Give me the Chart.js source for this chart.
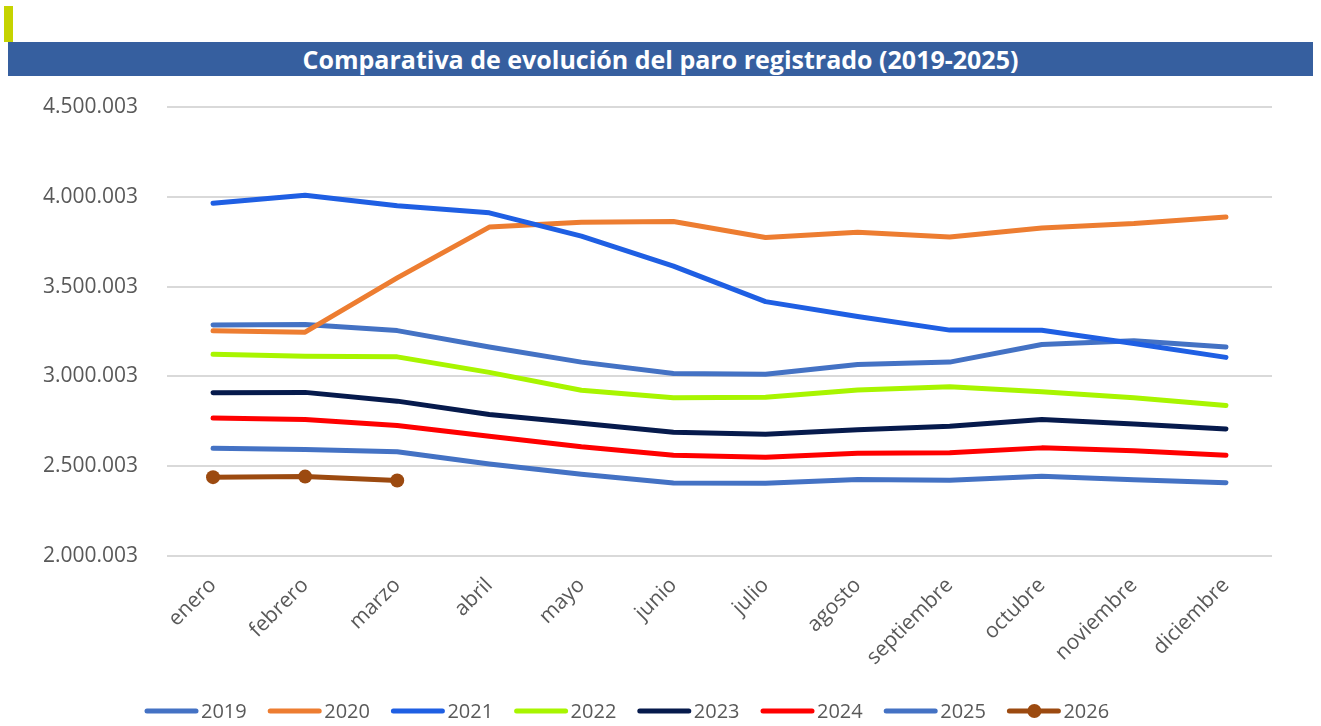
<!DOCTYPE html>
<html>
<head>
<meta charset="utf-8">
<script src="https://cdn.jsdelivr.net/npm/chart.js@4"></script>
<style>
  body { margin: 0; background: #fff; }
  #wrap { position: relative; width: 1321px; height: 726px; overflow: hidden; }
  #mark { position: absolute; left: 4px; top: 6px; width: 9px; height: 36px; background: #C5D300; }
  #band { position: absolute; left: 8px; top: 42px; width: 1305px; height: 34px; background: #365F9F; }
  #title { position: absolute; left: 0; top: 42px; width: 1321px; height: 34px; line-height: 34px; text-align: center;
           color: #fff; font: bold 25px "Open Sans", sans-serif; }
  canvas { position: absolute; left: 0; top: 0; }
</style>
</head>
<body>
<div id="wrap">
  <div id="mark"></div>
  <div id="band"></div>
  <div id="title">Comparativa de evolución del paro registrado (2019-2025)</div>
  <canvas id="myChart" width="1321" height="726"></canvas>
</div>
<script>
'use strict';

// data
let months = ['enero', 'febrero', 'marzo', 'abril', 'mayo', 'junio', 'julio', 'agosto', 'septiembre', 'octubre', 'noviembre', 'diciembre'];
let yTicks = [2000003, 2500003, 3000003, 3500003, 4000003, 4500003];

let paro2019 = [3285761, 3289040, 3255084, 3163566, 3079491, 3015686, 3011433, 3065804, 3079711, 3177659, 3198184, 3163605];
let paro2020 = [3253853, 3246047, 3548312, 3831203, 3857776, 3862883, 3773034, 3802814, 3776485, 3826043, 3851312, 3888137];
let paro2021 = [3964353, 4008789, 3949640, 3910628, 3781250, 3614339, 3416498, 3333915, 3257802, 3257068, 3182687, 3105905];
let paro2022 = [3123078, 3111684, 3108763, 3022503, 2922991, 2880582, 2883812, 2924240, 2941919, 2914892, 2881380, 2837653];
let paro2023 = [2908397, 2911015, 2862260, 2788370, 2739110, 2688842, 2677874, 2702700, 2722468, 2759404, 2734831, 2707456];
let paro2024 = [2767860, 2760408, 2727003, 2666500, 2607850, 2561067, 2550237, 2572121, 2575285, 2602054, 2586018, 2560718];
let paro2025 = [2599443, 2593449, 2580138, 2512718, 2454883, 2405963, 2404606, 2426511, 2421665, 2443766, 2425000, 2408000];
let paro2026 = [2439000, 2442000, 2420000];

let seriesNames = ['2019', '2020', '2021', '2022', '2023', '2024', '2025', '2026'];
let seriesData = [paro2019, paro2020, paro2021, paro2022, paro2023, paro2024, paro2025, paro2026];
let seriesColors = ['#4472C4', '#ED7D31', '#1F5FE3', '#A8F500', '#061A4C', '#FF0000', '#4472C4', '#9C4A10'];

function formatNumber(v) {
  return String(v).replace(/\B(?=(\d{3})+(?!\d))/g, '.');
}

let datasets = [];
for (let i = 0; i < seriesNames.length; i++) {
  let withPoints = seriesNames[i] === '2026';
  datasets.push({
    label: seriesNames[i],
    data: seriesData[i],
    borderColor: seriesColors[i],
    backgroundColor: seriesColors[i],
    borderWidth: 5,
    borderCapStyle: 'round',
    borderJoinStyle: 'round',
    tension: 0,
    fill: false,
    pointRadius: withPoints ? 7 : 0,
    pointHoverRadius: withPoints ? 7 : 0,
    pointBorderWidth: 0,
    order: seriesNames.length - i
  });
}

// legend drawn by hand at the bottom
let legendPlugin = {
  id: 'bottomLegend',
  afterDraw(chart) {
    let ctx = chart.ctx;
    let startX = 145;
    let step = 123.2;
    let y = 711;
    ctx.save();
    ctx.font = '20px "Open Sans", sans-serif';
    ctx.textBaseline = 'middle';
    ctx.textAlign = 'left';
    chart.data.datasets.forEach(function (ds, i) {
      let x = startX + i * step;
      ctx.strokeStyle = ds.borderColor;
      ctx.lineWidth = 5;
      ctx.lineCap = 'round';
      ctx.beginPath();
      ctx.moveTo(x + 2, y);
      ctx.lineTo(x + 51, y);
      ctx.stroke();
      if (ds.pointRadius > 0) {
        ctx.fillStyle = ds.borderColor;
        ctx.beginPath();
        ctx.arc(x + 27, y, 7, 0, Math.PI * 2);
        ctx.fill();
      }
      ctx.fillStyle = '#595959';
      ctx.fillText(ds.label, x + 56, y + 1);
    });
    ctx.restore();
  }
};

const ctx = document.getElementById('myChart').getContext('2d');

let myChart = new Chart(ctx, {
  type: 'line',
  data: {
    labels: months,
    datasets: datasets
  },
  options: {
    responsive: false,
    animation: false,
    layout: {
      padding: { top: 107, right: 49, bottom: 0, left: 0 }
    },
    plugins: {
      legend: { display: false },
      tooltip: { enabled: false }
    },
    scales: {
      x: {
        offset: true,
        grid: { display: false, drawTicks: false },
        border: { display: false },
        ticks: {
          color: '#595959',
          font: { family: 'Open Sans', size: 21 },
          maxRotation: 45,
          minRotation: 45,
          padding: 17
        },
        afterFit(axis) {
          axis.height = 170;
        }
      },
      y: {
        min: yTicks[0],
        max: yTicks[yTicks.length - 1],
        grid: { color: '#D9D9D9', lineWidth: 2, drawTicks: false },
        border: { display: false },
        ticks: {
          color: '#595959',
          font: { family: 'Open Sans', size: 21 },
          padding: 29,
          callback: function (value) {
            return formatNumber(value);
          }
        },
        afterBuildTicks(axis) {
          axis.ticks = yTicks.map(function (v) { return { value: v }; });
        },
        afterFit(axis) {
          axis.width = 167;
        }
      }
    }
  },
  plugins: [legendPlugin]
});
</script>
</body>
</html>
